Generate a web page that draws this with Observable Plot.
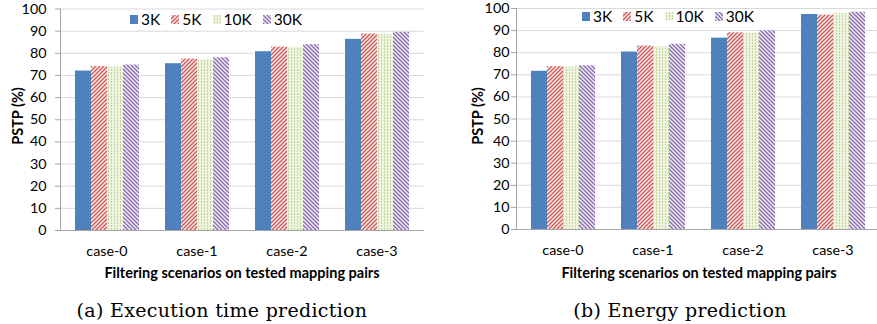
<!DOCTYPE html>
<html><head><meta charset="utf-8">
<script src="https://cdn.jsdelivr.net/npm/d3@7"></script>
<script src="https://cdn.jsdelivr.net/npm/@observablehq/plot@0.6"></script>
<style>
body{margin:0;background:#fff;}
#wrap{position:relative;width:877px;height:324px;overflow:hidden;font-family:Lato,sans-serif;color:#000;}
.panel{position:absolute;top:0;width:440px;height:324px;}
.panel svg.chart{position:absolute;left:0;top:0;}
.xt{position:absolute;font-weight:bold;font-size:14.5px;transform:translate(-50%,-50%);white-space:nowrap;}
.yt{position:absolute;font-weight:bold;font-size:14.5px;transform:translate(-50%,-50%) rotate(-90deg);white-space:nowrap;}
.cap{position:absolute;font-family:"DejaVu Serif",serif;font-size:19px;letter-spacing:0.3px;transform:translate(-50%,-50%);white-space:nowrap;}
.leg{position:absolute;display:flex;align-items:center;font-size:15.5px;transform:translateY(-50%);white-space:nowrap;}
.leg .it{display:flex;align-items:center;margin-right:11px;}
.leg svg{margin-right:3px;}
</style></head>
<body>
<svg width="0" height="0" style="position:absolute">
<defs>
<pattern id="p5k" patternUnits="userSpaceOnUse" width="4" height="4">
<rect width="4" height="4" fill="#fbeeee"/>
<path d="M-1,1 l2,-2 M0,4 l4,-4 M3,5 l2,-2" stroke="#cf5a57" stroke-width="1.4"/>
</pattern>
<pattern id="p10k" patternUnits="userSpaceOnUse" width="3" height="3">
<rect width="3" height="3" fill="#eef4e1"/>
<rect x="1" y="0" width="1" height="2" fill="#c2d69a"/>
</pattern>
<pattern id="p30k" patternUnits="userSpaceOnUse" width="4" height="4">
<rect width="4" height="4" fill="#f4f0f8"/>
<path d="M-1,3 l2,2 M0,0 l4,4 M3,-1 l2,2" stroke="#8a6bb0" stroke-width="1.4"/>
</pattern>
</defs>
</svg>
<div id="wrap">
  <div class="panel" id="pa" style="left:0"></div>
  <div class="panel" id="pb" style="left:440px"></div>
</div>
<script>
const cases = ["case-0", "case-1", "case-2", "case-3"];
const series = ["3K", "5K", "10K", "30K"];
const yTicks = [0, 10, 20, 30, 40, 50, 60, 70, 80, 90, 100];
const seriesColors = ["#4f81bd", "url(#p5k)", "url(#p10k)", "url(#p30k)"];

// (a) Execution time prediction, values per series over cases
const exec3K  = [72.0, 75.3, 80.7, 86.3];
const exec5K  = [74.0, 77.4, 82.8, 88.7];
const exec10K = [73.8, 77.1, 82.7, 88.5];
const exec30K = [74.7, 78.0, 83.9, 89.5];

// (b) Energy prediction
const energy3K  = [71.6, 80.3, 86.6, 97.3];
const energy5K  = [73.7, 83.0, 89.0, 97.0];
const energy10K = [73.5, 82.7, 88.9, 97.8];
const energy30K = [74.1, 83.8, 89.9, 98.3];

const yLabel = "PSTP (%)";
const xLabel = "Filtering scenarios on tested mapping pairs";
const captions = ["(a) Execution time prediction", "(b) Energy prediction"];

function tidy(rows) {
  return series.flatMap((s, i) => cases.map((c, j) => ({case: c, series: s, value: rows[i][j]})));
}

const bandPad = {paddingInner: 0.275, paddingOuter: 0.143};

function frameOpts(m) {
  return {
    width: 440, height: 285,
    marginLeft: m.left, marginRight: m.right, marginTop: m.top, marginBottom: m.bottom,
    style: {fontFamily: "Lato", fontSize: "14.3px", color: "#000", background: "transparent", overflow: "visible"}
  };
}

// background layer: grid, axes, case labels
function base(m) {
  return Plot.plot({
    ...frameOpts(m),
    x: {type: "band", domain: cases, ...bandPad, label: null},
    y: {domain: [0, 100], label: null},
    marks: [
      Plot.ruleY(yTicks.slice(1), {stroke: "#d9d9d9", strokeOpacity: 1}),
      Plot.ruleY([0], {stroke: "#a6a6a6", strokeOpacity: 1}),
      Plot.frame({anchor: "left", stroke: "#a6a6a6", strokeOpacity: 1}),
      Plot.axisY(yTicks, {anchor: "left", tickSize: 5, tickPadding: m.pad, stroke: "#a6a6a6", strokeOpacity: 1, label: null, fill: "#000"}),
      Plot.axisX({anchor: "bottom", tickSize: 0, tickPadding: 15, label: null, fill: "#000"})
    ]
  });
}

// bar layer: grouped bars through fx facets, same frame
function bars(data, m) {
  return Plot.plot({
    ...frameOpts(m),
    fx: {domain: cases, ...bandPad, axis: null, label: null},
    x: {domain: series, axis: null, padding: 0},
    y: {domain: [0, 100], axis: null},
    color: {domain: series, range: seriesColors},
    marks: [
      Plot.barY(data, {fx: "case", x: "series", y: "value", fill: "series"})
    ]
  });
}

function legend(el, left, top) {
  const d = document.createElement("div");
  d.className = "leg";
  d.style.left = left + "px";
  d.style.top = top + "px";
  series.forEach((s, i) => {
    const it = document.createElement("span");
    it.className = "it";
    it.innerHTML = `<svg width="8" height="9"><rect width="8" height="9" fill="${seriesColors[i]}"/></svg>${s}`;
    d.appendChild(it);
  });
  el.appendChild(d);
}

function addText(el, cls, text, x, y) {
  const d = document.createElement("div");
  d.className = cls;
  d.textContent = text;
  d.style.left = x + "px";
  d.style.top = y + "px";
  el.appendChild(d);
}

function panel(el, rows, m) {
  const b = base(m);
  b.classList.add("chart");
  el.appendChild(b);
  const f = bars(tidy(rows), m);
  f.classList.add("chart");
  el.appendChild(f);
}

const pa = document.getElementById("pa");
const pb = document.getElementById("pb");
panel(pa, [exec3K, exec5K, exec10K, exec30K], {left: 60, right: 16, top: 8.5, bottom: 55, pad: 9});
panel(pb, [energy3K, energy5K, energy10K, energy30K], {left: 76, right: 0, top: 8, bottom: 56, pad: 2});

legend(pa, 130, 19);
legend(pb, 142, 16);
addText(pa, "yt", yLabel, 17, 116);
addText(pb, "yt", yLabel, 37, 116);
addText(pa, "xt", xLabel, 242, 272);
addText(pb, "xt", xLabel, 259, 272);
addText(pa, "cap", captions[0], 222, 310);
addText(pb, "cap", captions[1], 240, 310);
</script>
</body></html>
